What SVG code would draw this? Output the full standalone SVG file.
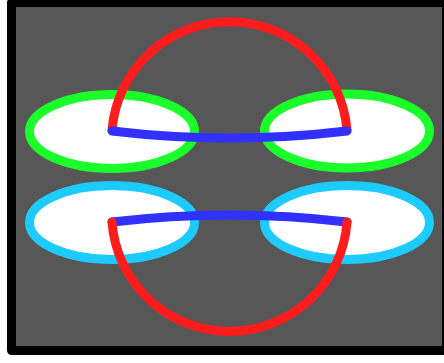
<svg xmlns="http://www.w3.org/2000/svg" width="444" height="363" viewBox="0 0 444 363">
<style>
.frame{fill:#575757;stroke:#000;stroke-width:9;stroke-linejoin:round}
.node{fill:#fff;stroke-width:9}
.g{stroke:#1bff2b}
.c{stroke:#1ecbff}
.red{fill:none;stroke:#ff1c1c;stroke-width:9;stroke-linecap:round}
.blue{fill:none;stroke:#3030ff;stroke-width:9;stroke-linecap:round}
</style>
<rect class="frame" x="11.5" y="2.5" width="435" height="348"/>
<g id="n1"><ellipse class="node g" cx="112" cy="131.5" rx="82.5" ry="37"/></g>
<g id="n2"><ellipse class="node g" cx="347" cy="131" rx="82.5" ry="37"/></g>
<g id="n3"><ellipse class="node c" cx="112" cy="222.5" rx="82.5" ry="37"/></g>
<g id="n4"><ellipse class="node c" cx="347" cy="222.5" rx="82.5" ry="37"/></g>
<g id="connectors">
<path class="red" d="M112,130 A117.9,117.9 0 0 1 347,130"/>
<path class="blue" d="M112,131 Q229.5,145 347,131"/>
<path class="blue" d="M112,222 Q229.5,208 347,222"/>
<path class="red" d="M112,222 A117.8,117.8 0 0 0 347,222"/>
</g>
</svg>
